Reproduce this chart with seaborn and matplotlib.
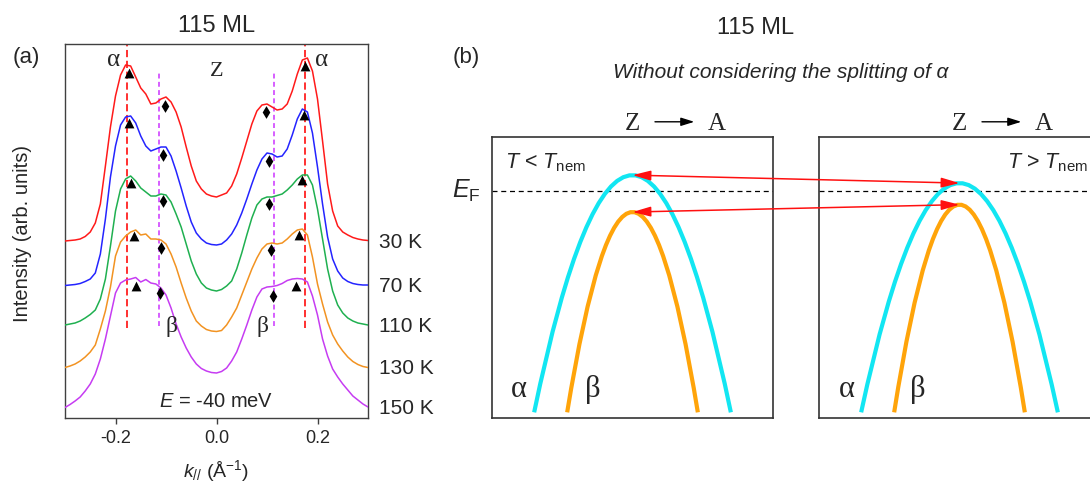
import numpy as np
import pandas as pd
import matplotlib
matplotlib.use("Agg")
import matplotlib.pyplot as plt
import seaborn as sns
from matplotlib.path import Path
from matplotlib.patches import PathPatch, ConnectionPatch

# ------------------------------------------------------------------
# (a) MDCs at E = -40 meV for several temperatures (stacked)
# ------------------------------------------------------------------
k_grid = np.linspace(-0.30, 0.30, 61)          # k// (1/Angstrom), 0.01 steps

temperatures = ["30 K", "70 K", "110 K", "130 K", "150 K"]
curve_colors = ["#ff1a1a", "#2424ff", "#1fb050", "#f29322", "#c63cf2"]

# intensity of each curve (arb. units), k = -0.30 ... 0.30
mdc_30K = [0, 0.5, 1, 2, 4.5, 9, 18, 37, 75, 114, 145, 166, 176, 175, 164, 153,
           147, 137, 138, 142, 144, 139, 129, 114, 94, 75, 60, 52, 47, 45, 44,
           46, 48, 55, 67, 83, 100, 117, 130, 136, 137, 134, 131, 132, 137, 150,
           167, 181, 183, 170, 142, 100, 57, 30, 15, 9, 6, 3.5, 2, 1, 0.5]
mdc_70K = [0, 0.5, 1, 2, 4, 6.5, 12.5, 31.5, 66.5, 108.5, 139.5, 160.5, 168.5,
           169.5, 162.5, 149.5, 139.5, 134.5, 136.5, 138.5, 138.5, 129.5, 114.5,
           97.5, 79.5, 63.5, 52.5, 46.5, 42.5, 41, 40.5,
           41.5, 45.5, 51.5, 60.5, 72.5, 86.5, 101.5, 115.5, 126.5, 132.5, 131.5,
           128.5, 129.5, 136.5, 150.5, 166.5, 176.5, 173.5, 152.5, 118.5, 81.5,
           48.5, 26.5, 14.5, 7.5, 4, 2, 1, 0.5, 0.5]
mdc_110K = [0, 1, 2, 4, 7, 10.5, 15, 26, 46, 79, 114, 136, 146, 149, 144, 137,
            133, 129, 129, 131, 130, 123, 111, 98, 81, 64, 51, 42, 37, 35, 34,
            35.5, 39, 44, 56, 72, 90, 107, 120, 126, 128, 128, 129.5, 131, 135,
            140, 146, 150, 150, 140, 116, 86, 56, 34, 20, 12, 7, 4, 2, 1, 0]
mdc_130K = [0, 1.5, 3.5, 6.5, 10.5, 15.5, 22.5, 38.5, 56.5, 80.5, 111.5, 125.5,
            131.5, 135.5, 137.5, 132.5, 133.5, 128.5, 128.5, 127.5, 123.5, 113.5,
            100.5, 84.5, 69.5, 56.5, 46.5, 41.5, 38, 36.5, 36,
            37, 42.5, 50.5, 59.5, 72.5, 85.5, 98.5, 109.5, 118.5, 123.5, 124.5,
            123.5, 124.5, 128.5, 133.5, 137.5, 138.5, 132.5, 110.5, 83.5, 63.5,
            45.5, 32.5, 23.5, 16.5, 10.5, 6, 3, 1, 0]
mdc_150K = [0, 3, 6.5, 10.5, 16.5, 23.5, 33.5, 48.5, 68.5, 91.5, 114.5, 124.5,
            127.5, 128.5, 130, 125.5, 128, 124.5, 123.5, 119.5, 112.5, 99.5, 83.5,
            70.5, 59.5, 50.5, 43.5, 39, 36.5, 35, 34.5,
            36, 39.5, 46.5, 55.5, 68.5, 82.5, 97.5, 110.5, 118.5, 120.5, 121, 122,
            124, 127, 128.5, 129, 128.5, 125.5, 111.5, 92.5, 68.5, 51.5, 38.5,
            30.5, 23.5, 17.5, 11.5, 7.5, 3.5, 0.5]
mdcs = [mdc_30K, mdc_70K, mdc_110K, mdc_130K, mdc_150K]

# vertical offsets used for stacking
offsets = [177, 132.5, 93, 50.5, 10.5]

# alpha-band peak positions (triangles) and beta-band positions (diamonds)
alpha_k = [(-0.174, 0.176), (-0.173, 0.173), (-0.169, 0.169), (-0.164, 0.164), (-0.159, 0.158)]
alpha_I = [(168, 175), (162.5, 170.5), (142, 145), (131.5, 132.5), (121.5, 121.5)]
beta_k = [(-0.101, 0.099), (-0.105, 0.103), (-0.106, 0.104), (-0.109, 0.108), (-0.112, 0.111)]
beta_I = [(135, 129), (130.5, 124.5), (124, 121), (119.5, 117.5), (114.5, 111.5)]

alpha_guide_k = [-0.177, 0.176]
beta_guide_k = [-0.113, 0.113]

xtick_vals = [-0.2, 0.0, 0.2]
xtick_labels = ["-0.2", "0.0", "0.2"]

# ------------------------------------------------------------------
# (b) schematic bands along Z -> A, below / above T_nem
# ------------------------------------------------------------------
band_labels = ["α", "β"]
band_colors = ["#12e6f2", "#ffa40a"]
band_top_low_T = [0.070, -0.0925]     # band maxima (E_F = 0) for T < T_nem
band_top_high_T = [0.035, -0.060]     # band maxima for T > T_nem
band_k_end = [0.70, 0.465]            # k where each band leaves the window
band_E_end = -0.975
band_label_k = {"low": [-0.81, -0.28], "high": [-0.80, -0.30]}

# ------------------------------------------------------------------
sns.set_style("white")
plt.rcParams["font.family"] = ["Liberation Sans", "DejaVu Sans"]
plt.rcParams["axes.unicode_minus"] = False
plt.rcParams["mathtext.fontset"] = "custom"
plt.rcParams["mathtext.rm"] = "Liberation Sans"
plt.rcParams["mathtext.it"] = "Liberation Sans:italic"
plt.rcParams["mathtext.bf"] = "Liberation Sans:bold"
SERIF = ["Liberation Serif", "DejaVu Serif"]

W, H = 1090, 485
fig = plt.figure(figsize=(W / 100, H / 100), dpi=100)

ax_a = fig.add_axes([65 / W, 66 / H, 303 / W, 374 / H])
ax_lo = fig.add_axes([492 / W, 66 / H, 281 / W, 281 / H])
ax_hi = fig.add_axes([819 / W, 66 / H, 281 / W, 281 / H])

# ---------------------------- panel (a) ---------------------------
rows = []
for T, prof, off in zip(temperatures, mdcs, offsets):
    for k, v in zip(k_grid, prof):
        rows.append({"k": k, "I": v + off, "T": T})
df = pd.DataFrame(rows)

sns.lineplot(data=df, x="k", y="I", hue="T", hue_order=temperatures,
             palette=dict(zip(temperatures, curve_colors)), estimator=None,
             sort=False, legend=False, lw=1.1, ax=ax_a, zorder=3)

ax_a.vlines(alpha_guide_k, 90, 374, colors="#ff2020", lw=1.3,
            linestyles=(0, (4, 2)), zorder=2)
ax_a.vlines(beta_guide_k, 92, 347, colors="#cc33ff", lw=1.1,
            linestyles=(0, (3.2, 2.2)), zorder=2)

tri_x = [k for pair in alpha_k for k in pair]
tri_y = [v + off for pair, off in zip(alpha_I, offsets) for v in pair]
dia_x = [k for pair in beta_k for k in pair]
dia_y = [v + off for pair, off in zip(beta_I, offsets) for v in pair]
sns.scatterplot(x=tri_x, y=tri_y, marker="^", color="black", s=50,
                linewidth=0, ax=ax_a, zorder=5)
sns.scatterplot(x=dia_x, y=dia_y, marker="d", color="black", s=42,
                linewidth=0, ax=ax_a, zorder=5)

for T, off in zip(temperatures, offsets):
    ax_a.text(0.3226, off, T, ha="left", va="center", fontsize=15, clip_on=False)

ax_a.text(-0.204, 353.3, "α", family=SERIF, fontsize=18, ha="center", va="baseline")
ax_a.text(0.2076, 353.3, "α", family=SERIF, fontsize=18, ha="center", va="baseline")
ax_a.text(0.0, 343, "Z", family=SERIF, fontsize=16, ha="center", va="baseline")
ax_a.text(-0.0896, 87.3, "β", family=SERIF, fontsize=17, ha="center", va="baseline")
ax_a.text(0.0903, 87.3, "β", family=SERIF, fontsize=17, ha="center", va="baseline")
ax_a.text(0.0, 12.3, r"$E$ = -40 meV", fontsize=14.5, ha="center", va="baseline")

ax_a.set_xlim(-0.30, 0.30)
ax_a.set_ylim(0, 374)
ax_a.set_xticks(xtick_vals)
ax_a.set_xticklabels(xtick_labels, fontsize=13)
ax_a.set_yticks([])
ax_a.tick_params(axis="x", direction="out", length=4, width=1, color="#404040",
                 bottom=True, pad=4)
for sp in ax_a.spines.values():
    sp.set_color("#404040")
    sp.set_linewidth(1.0)
ax_a.set_xlabel(r"$k_{//}$ (Å$^{-1}$)", fontsize=14, va="top")
ax_a.xaxis.set_label_coords(0.5, -0.105)
ax_a.set_ylabel("Intensity (arb. units)", fontsize=14.5)
ax_a.yaxis.set_label_coords(-0.11, 0.497)

# ---------------------------- panel (b) ---------------------------
def draw_bands(ax, tops, key):
    for lab, col, top, kend, lk in zip(band_labels, band_colors, tops,
                                       band_k_end, band_label_k[key]):
        verts = [(-kend, band_E_end), (0.0, 2 * top - band_E_end), (kend, band_E_end)]
        path = Path(verts, [Path.MOVETO, Path.CURVE3, Path.CURVE3])
        ax.add_patch(PathPatch(path, facecolor="none", edgecolor=col, lw=3.0,
                               capstyle="butt", zorder=3))
        ax.text(lk, -0.902, lab, family=SERIF, fontsize=22, ha="center",
                va="baseline")
    ax.set_xlim(-1, 1)
    ax.set_ylim(-1, 0.238)
    ax.set_xticks([])
    ax.set_yticks([])
    for sp in ax.spines.values():
        sp.set_color("#333333")
        sp.set_linewidth(1.2)
    ax.axhline(0, color="black", lw=0.9, dashes=(4, 3), zorder=2)
    # direction label above the box
    ax.text(0.0, 0.273, "Z", family=SERIF, fontsize=18, ha="center", va="baseline")
    ax.text(0.60, 0.273, "A", family=SERIF, fontsize=18, ha="center", va="baseline")
    ax.annotate("", xy=(0.44, 0.305), xytext=(0.16, 0.305),
                arrowprops=dict(arrowstyle="-|>,head_length=0.8,head_width=0.25",
                                lw=1.0, color="black", shrinkA=0, shrinkB=0),
                annotation_clip=False)

draw_bands(ax_lo, band_top_low_T, "low")
draw_bands(ax_hi, band_top_high_T, "high")

ax_lo.text(-0.907, 0.106, r"$T$ < $T_{\mathrm{nem}}$", fontsize=15.5,
           ha="left", va="baseline")
ax_hi.text(0.336, 0.106, r"$T$ > $T_{\mathrm{nem}}$", fontsize=15.5,
           ha="left", va="baseline")
ax_lo.text(-1.285, -0.026, r"$E_{\mathrm{F}}$", fontsize=18, ha="left",
           va="baseline")

# band maxima shift between the two temperatures
for top_hi, top_lo in zip(band_top_high_T, band_top_low_T):
    con = ConnectionPatch(xyA=(0.0, top_hi), coordsA=ax_hi.transData,
                          xyB=(0.0, top_lo), coordsB=ax_lo.transData,
                          arrowstyle="<|-|>,head_length=1.1,head_width=0.3",
                          color="#ff1010", lw=1.1, shrinkA=0, shrinkB=0,
                          mutation_scale=10, zorder=6)
    fig.add_artist(con)

# ---------------------------- headings ----------------------------
fig.text(217 / W, 1 - 26 / H, "115 ML", fontsize=17, ha="center", va="center")
fig.text(756 / W, 1 - 28 / H, "115 ML", fontsize=17, ha="center", va="center")
fig.text(26 / W, 1 - 58 / H, "(a)", fontsize=16, ha="center", va="center")
fig.text(466 / W, 1 - 57 / H, "(b)", fontsize=16, ha="center", va="center")
fig.text(612.7 / W, 1 - 73 / H, "Without considering the splitting of α",
         fontsize=15, style="italic", ha="left", va="center")

fig.savefig("out.png", dpi=100)
